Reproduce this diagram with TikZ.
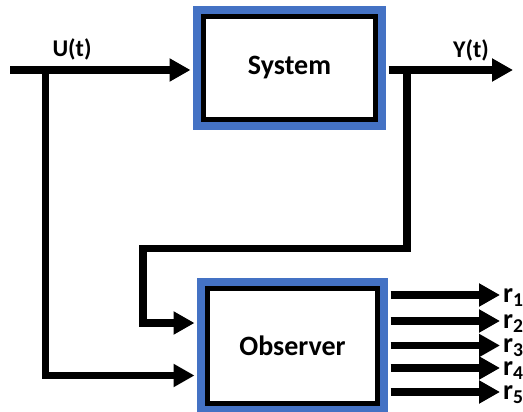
\documentclass[tikz,border=0pt]{standalone}
\usepackage{fontspec}
\setmainfont{Carlito}
\usetikzlibrary{arrows.meta}
\definecolor{frameblue}{RGB}{68,114,196}
\begin{document}
\begin{tikzpicture}[x=1pt,y=-1pt,
  blockbox/.style={draw=black, line width=5pt, fill=white,
    preaction={draw=frameblue, line width=21pt},
    inner sep=0pt, font=\fontsize{28}{30}\selectfont\bfseries},
  wire/.style={line width=7.5pt},
  sig/.style={wire, -{Triangle[length=21pt,width=22pt]}},
  lbl/.style={font=\fontsize{24}{26}\selectfont\bfseries, inner sep=0pt},
  rlbl/.style={font=\fontsize{28}{30}\selectfont\bfseries, inner sep=0pt}
]
\useasboundingbox (0,0) rectangle (523,412);

% blocks
\node[blockbox, minimum width=172pt, minimum height=103pt] (sys) at (289.5,68) {System};
\node[blockbox, minimum width=170pt, minimum height=115pt] (obs) at (292.5,346) {Observer};

% helper points for the wiring
\coordinate (uin)  at (10,70);
\coordinate (ubr)  at (45.5,70);
\coordinate (ulow) at (0,375.5);
\coordinate (yout) at (513,70);
\coordinate (ytap) at (407,70);
\coordinate (fbr)  at (407,248.5);
\coordinate (fbl)  at (143,248.5);
\coordinate (fin)  at (0,323);

% input and its branch to the observer
\draw[sig, shorten >=10.5pt] (uin) -- (uin -| sys.west);
\draw[sig, shorten >=10.5pt] (ubr) |- (ulow -| obs.west);
\node[lbl] (ulab) at (72,49.5) {U(t)};

% output and feedback to the observer
\draw[sig, shorten <=10.5pt] (yout -| sys.east) -- (yout);
\draw[sig, shorten >=10.5pt] (ytap) -- (fbr) -- (fbl) |- (fin -| obs.west);
\node[lbl] (ylab) at (471,50) {Y(t)};

% residual outputs
\foreach \i/\yy in {1/295,2/321,3/345.5,4/368,5/392} {
  \coordinate (rtip\i) at (500,\yy);
  \draw[sig, shorten <=10.5pt] (rtip\i -| obs.east) -- (rtip\i);
  \node[rlbl, anchor=base west] (rl\i) at (503,\yy+7) {r\textsubscript{\i}};
}
\end{tikzpicture}
\end{document}
